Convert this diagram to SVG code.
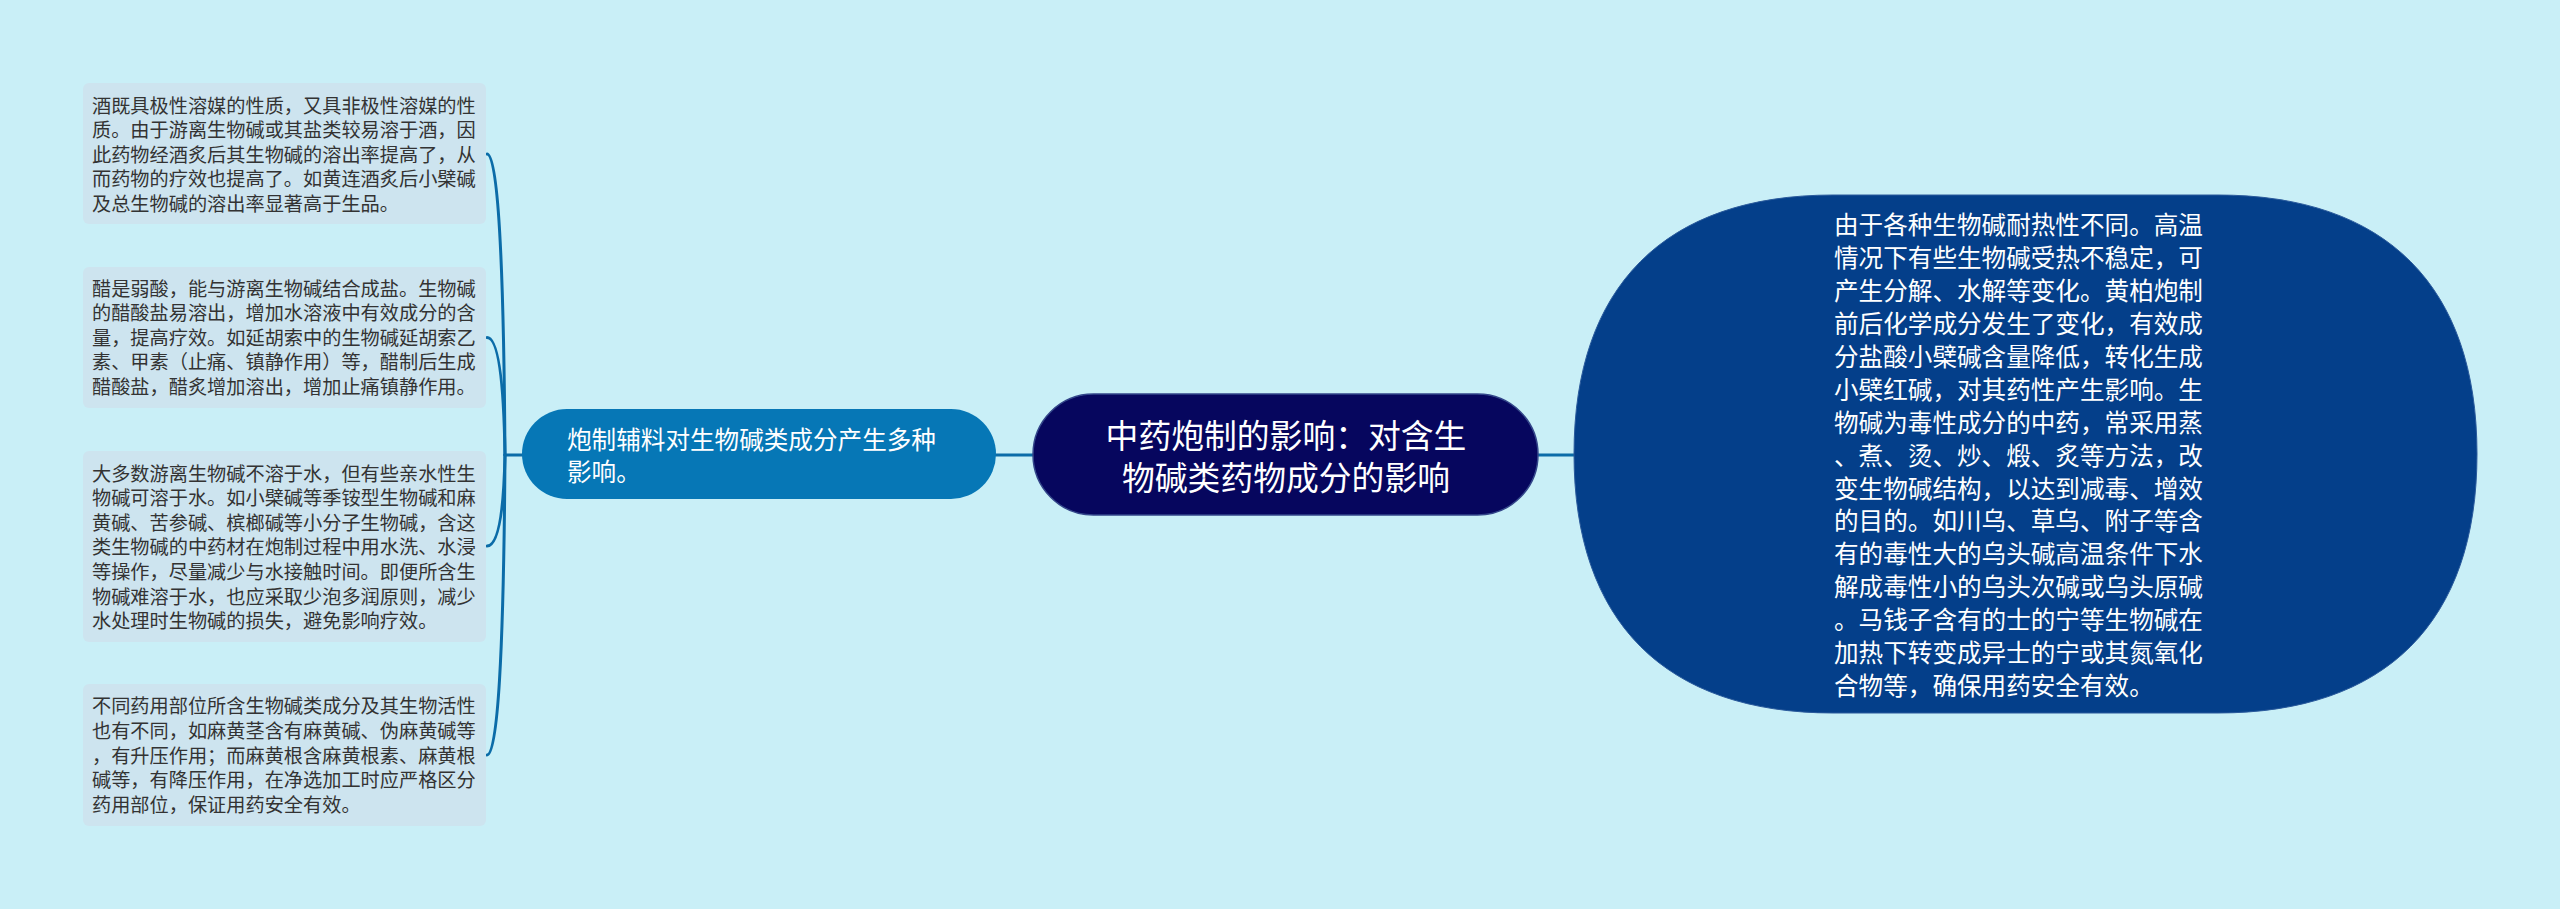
<svg xmlns="http://www.w3.org/2000/svg" width="2560" height="909" viewBox="0 0 2560 909">
<style>
.bg{fill:#c9eff7}
.box{fill:#cde4ef}
.bt{font-family:"Noto Sans CJK SC","Noto Sans",sans-serif;font-size:19.2px;fill:#333333}
.wt{font-family:"Noto Sans CJK SC","Noto Sans",sans-serif;fill:#ffffff}
.con{fill:none;stroke:#0b6ca8;stroke-width:3;stroke-linecap:round}
</style>
<rect class="bg" x="0" y="0" width="2560" height="909"/>
<g id="connectors">
<path class="con" d="M 996 455 H 1033"/>
<path class="con" d="M 1538 455 H 1574"/>
<path class="con" d="M 522 455 H 505"/>
<path class="con" d="M 505 455 Q 503 154 487 154"/>
<path class="con" d="M 505 455 Q 503 337.5 487 337.5"/>
<path class="con" d="M 505 455 Q 503 546 487 546"/>
<path class="con" d="M 505 455 Q 503 755 487 755"/>
</g>
<g id="node-box1">
<rect class="box" x="83" y="83" width="403" height="141" rx="6"/>
<text class="bt" x="92" y="112.6"><tspan x="92">酒既具极性溶媒的性质，又具非极性溶媒的性</tspan><tspan x="92" dy="24.6">质。由于游离生物碱或其盐类较易溶于酒，因</tspan><tspan x="92" dy="24.6">此药物经酒炙后其生物碱的溶出率提高了，从</tspan><tspan x="92" dy="24.6">而药物的疗效也提高了。如黄连酒炙后小檗碱</tspan><tspan x="92" dy="24.6">及总生物碱的溶出率显著高于生品。</tspan></text>
</g>
<g id="node-box2">
<rect class="box" x="83" y="267" width="403" height="141" rx="6"/>
<text class="bt" x="92" y="295.6"><tspan x="92">醋是弱酸，能与游离生物碱结合成盐。生物碱</tspan><tspan x="92" dy="24.6">的醋酸盐易溶出，增加水溶液中有效成分的含</tspan><tspan x="92" dy="24.6">量，提高疗效。如延胡索中的生物碱延胡索乙</tspan><tspan x="92" dy="24.6">素、甲素（止痛、镇静作用）等，醋制后生成</tspan><tspan x="92" dy="24.6">醋酸盐，醋炙增加溶出，增加止痛镇静作用。</tspan></text>
</g>
<g id="node-box3">
<rect class="box" x="83" y="451" width="403" height="191" rx="6"/>
<text class="bt" x="92" y="480.6"><tspan x="92">大多数游离生物碱不溶于水，但有些亲水性生</tspan><tspan x="92" dy="24.6">物碱可溶于水。如小檗碱等季铵型生物碱和麻</tspan><tspan x="92" dy="24.6">黄碱、苦参碱、槟榔碱等小分子生物碱，含这</tspan><tspan x="92" dy="24.6">类生物碱的中药材在炮制过程中用水洗、水浸</tspan><tspan x="92" dy="24.6">等操作，尽量减少与水接触时间。即便所含生</tspan><tspan x="92" dy="24.6">物碱难溶于水，也应采取少泡多润原则，减少</tspan><tspan x="92" dy="24.6">水处理时生物碱的损失，避免影响疗效。</tspan></text>
</g>
<g id="node-box4">
<rect class="box" x="83" y="684" width="403" height="142" rx="6"/>
<text class="bt" x="92" y="713.3"><tspan x="92">不同药用部位所含生物碱类成分及其生物活性</tspan><tspan x="92" dy="24.6">也有不同，如麻黄茎含有麻黄碱、伪麻黄碱等</tspan><tspan x="92" dy="24.6">，有升压作用；而麻黄根含麻黄根素、麻黄根</tspan><tspan x="92" dy="24.6">碱等，有降压作用，在净选加工时应严格区分</tspan><tspan x="92" dy="24.6">药用部位，保证用药安全有效。</tspan></text>
</g>
<g id="node-fuliao">
<rect x="522" y="409" width="474" height="90" rx="45" fill="#0677b6"/>
<text class="wt" font-size="24.6" x="567" y="449.3"><tspan x="567">炮制辅料对生物碱类成分产生多种</tspan><tspan x="567" dy="32">影响。</tspan></text>
</g>
<g id="node-center">
<rect x="1033" y="394" width="505" height="121" rx="60.5" fill="#06065e" stroke="#33468a" stroke-width="1.5"/>
<text class="wt" font-size="32.8" text-anchor="middle" x="1286" y="447.5"><tspan x="1286">中药炮制的影响：对含生</tspan><tspan x="1286" dy="42">物碱类药物成分的影响</tspan></text>
</g>
<g id="node-heat">
<path d="M 1833 195 H 2218 C 2386 195 2477 286 2477 454 C 2477 622 2386 713 2218 713 H 1833 C 1665 713 1574 622 1574 454 C 1574 286 1665 195 1833 195 Z" fill="#043f8a" stroke="#2a5a9c" stroke-width="1"/>
<text class="wt" font-size="24.6" x="1834" y="234.3"><tspan x="1834">由于各种生物碱耐热性不同。高温</tspan><tspan x="1834" dy="32.9">情况下有些生物碱受热不稳定，可</tspan><tspan x="1834" dy="32.9">产生分解、水解等变化。黄柏炮制</tspan><tspan x="1834" dy="32.9">前后化学成分发生了变化，有效成</tspan><tspan x="1834" dy="32.9">分盐酸小檗碱含量降低，转化生成</tspan><tspan x="1834" dy="32.9">小檗红碱，对其药性产生影响。生</tspan><tspan x="1834" dy="32.9">物碱为毒性成分的中药，常采用蒸</tspan><tspan x="1834" dy="32.9">、煮、烫、炒、煅、炙等方法，改</tspan><tspan x="1834" dy="32.9">变生物碱结构，以达到减毒、增效</tspan><tspan x="1834" dy="32.9">的目的。如川乌、草乌、附子等含</tspan><tspan x="1834" dy="32.9">有的毒性大的乌头碱高温条件下水</tspan><tspan x="1834" dy="32.9">解成毒性小的乌头次碱或乌头原碱</tspan><tspan x="1834" dy="32.9">。马钱子含有的士的宁等生物碱在</tspan><tspan x="1834" dy="32.9">加热下转变成异士的宁或其氮氧化</tspan><tspan x="1834" dy="32.9">合物等，确保用药安全有效。</tspan></text>
</g>
</svg>
